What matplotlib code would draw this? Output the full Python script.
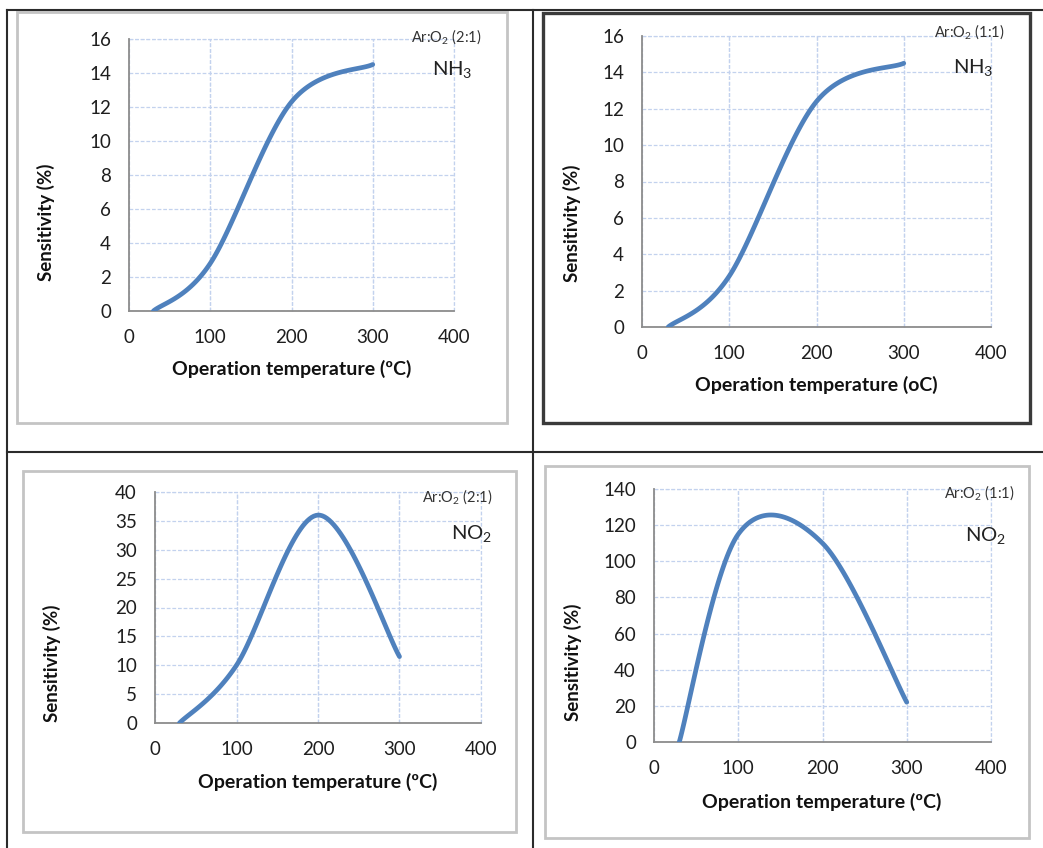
"""Four sensitivity-vs-temperature panels laid out in a bordered table."""

import matplotlib
matplotlib.use("Agg")
import matplotlib.pyplot as plt
import numpy as np
from matplotlib.lines import Line2D
from matplotlib.patches import Rectangle

plt.rcParams["font.family"] = ["Lato", "DejaVu Sans"]
plt.rcParams["mathtext.fontset"] = "custom"
plt.rcParams["mathtext.rm"] = "Lato"
plt.rcParams["mathtext.it"] = "Lato"

W, H = 1043, 848

temps = [30, 100, 200, 300]
nh3_21 = [0, 2.8, 12.3, 14.5]
nh3_11 = [0, 2.8, 12.4, 14.5]
no2_21 = [0, 10.0, 36.0, 11.5]
no2_11 = [0, 115, 110, 22]

x_ticks = [0, 100, 200, 300, 400]

LINE = "#4F81BD"
GRID = "#C3D2EE"
SPINE = "#8C8C8C"


def px_rect(x0, y0, x1, y1):
    return [x0 / W, 1 - y1 / H, (x1 - x0) / W, (y1 - y0) / H]


def smooth(ax, xs, ys, n=40):
    # Excel-style smoothed line: Bezier through the points, built in screen space
    pts = ax.transData.transform(np.column_stack([xs, ys]))
    out = [pts[0]]
    for i in range(len(pts) - 1):
        p0 = pts[i - 1] if i > 0 else pts[i]
        p1, p2 = pts[i], pts[i + 1]
        p3 = pts[i + 2] if i + 2 < len(pts) else pts[i + 1]
        c1 = p1 + (p2 - p0) / 6
        c2 = p2 - (p3 - p1) / 6
        t = np.linspace(0, 1, n)[1:, None]
        seg = ((1 - t) ** 3) * p1 + 3 * ((1 - t) ** 2) * t * c1 + 3 * (1 - t) * t ** 2 * c2 + t ** 3 * p2
        out.extend(seg)
    return ax.transData.inverted().transform(np.array(out))


panels = [
    # plot box (px), ymax, ystep, values, ratio, gas, xlabel, ylabel pos, xlabel pos, ratio pos, gas pos
    ((129, 39, 454, 311), 16, 2, nh3_21, "(2:1)", "NH$_3$", "Operation temperature (\u00baC)",
     (46, 222), (292, 369), (446, 37), (452, 70)),
    ((642, 36, 991, 327), 16, 2, nh3_11, "(1:1)", "NH$_3$", "Operation temperature (oC)",
     (572, 223), (816, 385), (969, 32), (973, 67)),
    ((155, 492, 481, 723), 40, 5, no2_21, "(2:1)", "NO$_2$", "Operation temperature (\u00baC)",
     (52, 663), (318, 782), (457, 497), (472, 533)),
    ((654, 489, 991, 742), 140, 20, no2_11, "(1:1)", "NO$_2$", "Operation temperature (\u00baC)",
     (573, 662), (822, 802), (979, 493), (986, 536)),
]

fig = plt.figure(figsize=(W / 100, H / 100), dpi=100)

for box, ymax, ystep, vals, ratio, gas, xlab, ylpos, xlpos, rpos, gpos in panels:
    ax = fig.add_axes(px_rect(*box))
    ax.set_xlim(0, 400)
    ax.set_ylim(0, ymax)
    ax.set_xticks(x_ticks)
    ax.set_yticks(np.arange(0, ymax + ystep, ystep))
    ax.tick_params(length=0, labelsize=13.5, pad=13, colors="#1E1E1E")
    for side in ("top", "right"):
        ax.spines[side].set_visible(False)
    for side in ("left", "bottom"):
        ax.spines[side].set_color(SPINE)
        ax.spines[side].set_linewidth(1.3)
    ax.grid(True, color=GRID, linestyle=(0, (3, 1.5)), linewidth=0.9)
    for v in x_ticks[1:]:
        ax.axvline(v, color=GRID, linestyle=(0, (3, 1.5)), linewidth=0.9, clip_on=False, zorder=0.5)
    ax.axhline(ymax, color=GRID, linestyle=(0, (3, 1.5)), linewidth=0.9, clip_on=False, zorder=0.5)
    ax.set_axisbelow(True)

    curve = smooth(ax, temps, vals)
    ax.plot(curve[:, 0], curve[:, 1], color=LINE, linewidth=3.4, solid_capstyle="round", zorder=3)

    fig.text(ylpos[0] / W, 1 - ylpos[1] / H, "Sensitivity (%)", rotation=90,
             ha="center", va="center", fontsize=13.5, fontweight="bold", color="#111111")
    fig.text(xlpos[0] / W, 1 - xlpos[1] / H, xlab,
             ha="center", va="center", fontsize=14, fontweight="bold", color="#111111")
    fig.text(rpos[0] / W, 1 - rpos[1] / H, "Ar:O$_2$ " + ratio,
             ha="center", va="center", fontsize=10.5, color="#333333")
    fig.text(gpos[0] / W, 1 - gpos[1] / H, gas,
             ha="center", va="center", fontsize=14.5, color="#222222")

# chart frames
frames = [
    ((17, 12, 507, 423), "#C4C4C4", 2.0),
    ((543, 13, 1030, 423), "#3A3A3A", 2.4),
    ((23, 471, 516, 832), "#C4C4C4", 2.0),
    ((545, 466, 1029, 838), "#C4C4C4", 2.0),
]
for (x0, y0, x1, y1), col, lw in frames:
    fig.patches.append(Rectangle((x0 / W, 1 - y1 / H), (x1 - x0) / W, (y1 - y0) / H,
                                 transform=fig.transFigure, fill=False, edgecolor=col,
                                 linewidth=lw, zorder=0))

# table borders
table_lines = [
    ((7, 1043), (10, 10)),
    ((7, 1043), (452, 452)),
    ((7, 7), (10, 848)),
    ((533, 533), (10, 848)),
]
for xs, ys in table_lines:
    fig.lines.append(Line2D([x / W for x in xs], [1 - y / H for y in ys],
                            transform=fig.transFigure, color="#2B2B2B", linewidth=1.5))

fig.savefig("out.png", dpi=100)
